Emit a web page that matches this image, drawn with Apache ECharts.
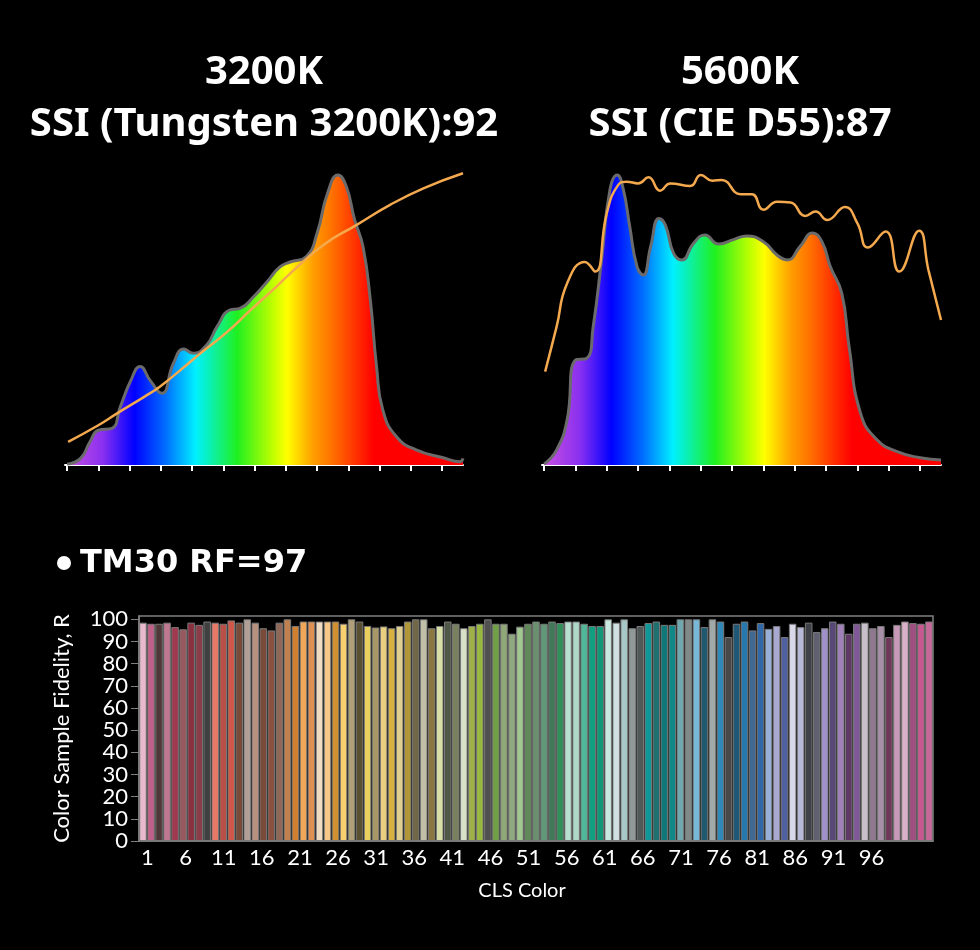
<!DOCTYPE html>
<html lang="en">

<head>
    <meta charset="UTF-8">
    <title>SSI / TM30</title>
    <script src="https://cdn.jsdelivr.net/npm/echarts/dist/echarts.min.js"></script>
    <style>
        html, body { margin: 0; padding: 0; background: #000; }
    </style>
</head>

<body>
    <div id="main" style="width: 980px; height: 950px;"></div>
    <script type="text/javascript">
        // 3200K spectrum (wavelength nm / relative value)
        var wl3200 = [380, 393, 402, 410, 423, 431, 441, 450, 460, 471, 482, 492, 501, 514, 524, 536, 546, 559, 572, 584, 594, 610, 620, 630, 640, 648, 656, 664, 671, 677, 683, 696, 715, 741, 757, 760];
        var spd3200 = [0.3, 2.3, 8, 12, 12.6, 20, 29, 34, 29, 24.7, 35, 40, 38.5, 41.4, 47.7, 53.4, 54, 58, 63.2, 68.2, 70, 72, 80, 93.7, 100, 96, 84.5, 75.3, 57, 34, 19, 9.8, 5.2, 2.5, 1.1, 2.3];
        var refWl3200 = [381, 410, 428, 454, 469, 495, 508, 534, 556, 581, 594, 626, 658, 690, 722, 760];
        var ref3200 = [8, 13.7, 17.8, 23.5, 27, 34.6, 38.5, 46, 53.4, 61.5, 66, 75.9, 82.8, 89.7, 95.4, 100.6];

        // 5600K spectrum
        var wl5600 = [380, 392, 402, 410, 421, 427, 435, 443, 450, 456, 462, 469, 475, 482, 490, 496, 504, 512, 523, 534, 547, 562, 574, 590, 603, 613, 625, 637, 646, 654, 665, 672, 683, 699, 718, 740, 760];
        var spd5600 = [0.3, 5.2, 15.5, 36.2, 36.8, 47.7, 70.7, 94.8, 100, 94.8, 82.2, 68.4, 65.5, 75.3, 85, 82.8, 73, 70.7, 76.4, 79.3, 76.2, 77.8, 79, 77, 72.4, 70.7, 75.3, 80, 77, 68.4, 59.2, 40.8, 17.8, 8.6, 4.6, 2.5, 1.7];
        var refWl5600 = [381, 392, 402, 419, 429, 440, 451, 459, 470, 480, 491, 501, 520, 530, 541, 550, 568, 579, 590, 603, 616, 630, 640, 651, 668, 680, 690, 707, 720, 739, 748, 760];
        var ref5600 = [32.2, 47.7, 62.6, 70, 66.7, 86.8, 96.6, 97.7, 97.1, 99.2, 94.6, 97.1, 96.2, 100, 98, 98.3, 93.4, 93.4, 88, 90.8, 90.5, 85.9, 87.4, 84.5, 89, 83.3, 75, 80.5, 66.7, 80.8, 67.2, 50];

        var wlTicks = [380, 410, 440, 470, 500, 530, 560, 590, 620, 650, 680, 710, 740];

        // TM30 colour sample fidelity, CES 1..99
        var rfValues = [98.5, 98, 98, 98.5, 96.5, 95.5, 98.5, 97.5, 99, 98.5,
            98, 99.5, 98.5, 100, 98.5, 96, 95, 98.5, 100, 97,
            99, 99, 99, 99, 99, 98, 100, 99, 97, 96.3,
            96.8, 96, 97, 99, 100, 100, 96, 97, 99, 98,
            96, 97, 98, 100, 98, 98, 93.5, 96.7, 98, 99,
            98, 99, 98.3, 99, 99, 98, 97, 97, 100, 98.5,
            100, 96, 97, 98.3, 99, 97.5, 97.5, 100, 100, 100,
            96.5, 100, 99, 92, 98, 99, 95, 98.3, 95.7, 97,
            92, 98, 96.5, 98.5, 94.3, 96, 99, 98, 93.5, 98,
            98.5, 96, 97, 92, 97.5, 99, 98.3, 98, 99];
        var rfColors = ['#e8b8cc', '#c06088', '#503838', '#c07890', '#a03850', '#985860', '#8a3040', '#8a3c48', '#404040', '#e87868',
            '#b85048', '#d05848', '#7a4a38', '#b0a098', '#b89080', '#7a4a38', '#8a5040', '#906858', '#c08050', '#d08030',
            '#f0a858', '#e09050', '#f0dcc0', '#f8c888', '#d09030', '#f8d070', '#b0a078', '#585030', '#e8d060', '#a89868',
            '#e8d080', '#d8b040', '#e0d090', '#b09838', '#706848', '#c0c0a8', '#8a7840', '#d8e0a8', '#505848', '#788060',
            '#d8e0c8', '#a0b048', '#98b840', '#505050', '#70a048', '#90a878', '#90a880', '#a0c890', '#608858', '#6a9070',
            '#609878', '#407858', '#30905a', '#b8e0d0', '#b0d8c8', '#50b898', '#10a080', '#109878', '#c8e8e0', '#d0e0e0',
            '#a8c8c8', '#909898', '#505858', '#109898', '#207070', '#107878', '#108888', '#70a8b0', '#808888', '#78b8d8',
            '#205870', '#a0a8a8', '#3088b8', '#484848', '#205878', '#2878b0', '#406890', '#3068a8', '#98b0d8', '#a8a8d0',
            '#5060a0', '#d8d8e8', '#b8b8d8', '#404048', '#606070', '#a090c8', '#584878', '#a080b8', '#603868', '#805898',
            '#c8c0c8', '#907890', '#a890a8', '#703858', '#c898b8', '#d8b0c8', '#a05080', '#c85890', '#c86898'];
        var cesLabels = ['1', '6', '11', '16', '21', '26', '31', '36', '41', '46', '51', '56', '61', '66', '71', '76', '81', '86', '91', '96'];
        var rfTicks = [0, 10, 20, 30, 40, 50, 60, 70, 80, 90, 100];

        function zip(xs, ys) {
            return xs.map(function (x, i) { return [x, ys[i]]; });
        }

        var rainbow = new echarts.graphic.LinearGradient(0, 0, 1, 0, [
            { offset: 0, color: '#c850e0' },
            { offset: 0.09, color: '#8a30f0' },
            { offset: 0.17, color: '#0000ff' },
            { offset: 0.25, color: '#0070ff' },
            { offset: 0.325, color: '#00f0ff' },
            { offset: 0.43, color: '#20f020' },
            { offset: 0.52, color: '#c0ff00' },
            { offset: 0.555, color: '#ffff00' },
            { offset: 0.62, color: '#ffa000' },
            { offset: 0.67, color: '#ff7000' },
            { offset: 0.775, color: '#ff0000' },
            { offset: 1, color: '#ff0000' }
        ]);

        var myChart = echarts.init(document.getElementById('main'));

        var specX = function (gi) {
            return {
                type: 'value', gridIndex: gi, min: 378, max: 760,
                axisLine: { onZero: true, lineStyle: { color: '#ffffff', width: 2 } },
                axisTick: { show: true, customValues: wlTicks, length: 6, lineStyle: { color: '#ffffff', width: 2 } },
                axisLabel: { show: false },
                splitLine: { show: false }
            };
        };
        var specY = function (gi) {
            return { type: 'value', gridIndex: gi, min: 0, max: 105, show: false, splitLine: { show: false } };
        };
        var spdSeries = function (gi, data) {
            return {
                type: 'line', xAxisIndex: gi, yAxisIndex: gi, data: data, smooth: 0.5,
                symbol: 'none', z: 2,
                lineStyle: { color: '#6b6b6b', width: 3 },
                areaStyle: { color: rainbow, opacity: 1 }
            };
        };
        var refSeries = function (gi, data) {
            return {
                type: 'line', xAxisIndex: gi, yAxisIndex: gi, data: data, smooth: 0.5,
                symbol: 'none', z: 3,
                lineStyle: { color: '#f4a94e', width: 2.5 }
            };
        };

        var titleFont = 'bold 40px "Noto Sans", "DejaVu Sans", sans-serif';
        var axisFont = 'Lato, "Noto Sans", sans-serif';

        option = {
            backgroundColor: '#000000',
            animation: false,
            graphic: [
                { type: 'text', x: 264, y: 73, style: { text: '3200K', fill: '#fff', font: titleFont, textAlign: 'center', textVerticalAlign: 'middle' } },
                { type: 'text', x: 264, y: 125, style: { text: 'SSI (Tungsten 3200K):92', fill: '#fff', font: titleFont, textAlign: 'center', textVerticalAlign: 'middle' } },
                { type: 'text', x: 740, y: 73, style: { text: '5600K', fill: '#fff', font: titleFont, textAlign: 'center', textVerticalAlign: 'middle' } },
                { type: 'text', x: 740, y: 125, style: { text: 'SSI (CIE D55):87', fill: '#fff', font: titleFont, textAlign: 'center', textVerticalAlign: 'middle' } },
                { type: 'circle', shape: { cx: 64, cy: 563, r: 7 }, style: { fill: '#fff' } },
                { type: 'text', x: 80, y: 564, style: { text: 'TM30 RF=97', fill: '#fff', font: 'bold 32px "DejaVu Sans", "Noto Sans", sans-serif', textAlign: 'left', textVerticalAlign: 'middle' } },
                { type: 'text', x: 522, y: 891, style: { text: 'CLS Color', fill: '#fff', font: '20px ' + axisFont, textAlign: 'center', textVerticalAlign: 'middle' } }
            ],
            grid: [
                { left: 65, width: 398, top: 160.5, height: 304.5 },
                { left: 542, width: 399, top: 160.5, height: 304.5 },
                { left: 139, width: 794, top: 616, height: 225, show: true, borderColor: '#808080', borderWidth: 1.5, backgroundColor: 'transparent' },
                { left: 147.5, width: 724, top: 616, height: 225 }
            ],
            xAxis: [
                specX(0),
                specX(1),
                {
                    type: 'category', gridIndex: 2,
                    data: rfValues.map(function (v, i) { return String(i + 1); }),
                    axisLine: { lineStyle: { color: '#808080', width: 1.5 } },
                    axisTick: { show: false },
                    axisLabel: { show: false }
                },
                {
                    type: 'category', gridIndex: 3, data: cesLabels, boundaryGap: false,
                    axisLine: { show: false },
                    axisTick: { show: false },
                    axisLabel: { interval: 0, color: '#ffffff', fontSize: 22, fontFamily: axisFont, margin: 6 }
                }
            ],
            yAxis: [
                specY(0),
                specY(1),
                {
                    type: 'value', gridIndex: 2, min: 0, max: 101.5,
                    name: 'Color Sample Fidelity, R', nameLocation: 'middle', nameGap: 66,
                    nameTextStyle: { color: '#ffffff', fontSize: 22, fontFamily: axisFont },
                    axisLine: { show: true, lineStyle: { color: '#808080', width: 1.5 } },
                    axisTick: { show: true, customValues: rfTicks, length: 8, lineStyle: { color: '#808080' } },
                    axisLabel: { customValues: rfTicks, color: '#ffffff', fontSize: 22, fontFamily: axisFont, margin: 11 },
                    splitLine: { show: false }
                },
                { type: 'value', gridIndex: 3, min: 0, max: 100, show: false, splitLine: { show: false } }
            ],
            series: [
                spdSeries(0, zip(wl3200, spd3200)),
                refSeries(0, zip(refWl3200, ref3200)),
                spdSeries(1, zip(wl5600, spd5600)),
                refSeries(1, zip(refWl5600, ref5600)),
                {
                    type: 'bar', xAxisIndex: 2, yAxisIndex: 2,
                    barCategoryGap: '6%',
                    data: rfValues.map(function (v, i) {
                        return { value: v, itemStyle: { color: rfColors[i] } };
                    }),
                    itemStyle: { borderColor: '#7a7a7a', borderWidth: 1 }
                }
            ]
        };

        myChart.setOption(option);
    </script>
</body>

</html>
